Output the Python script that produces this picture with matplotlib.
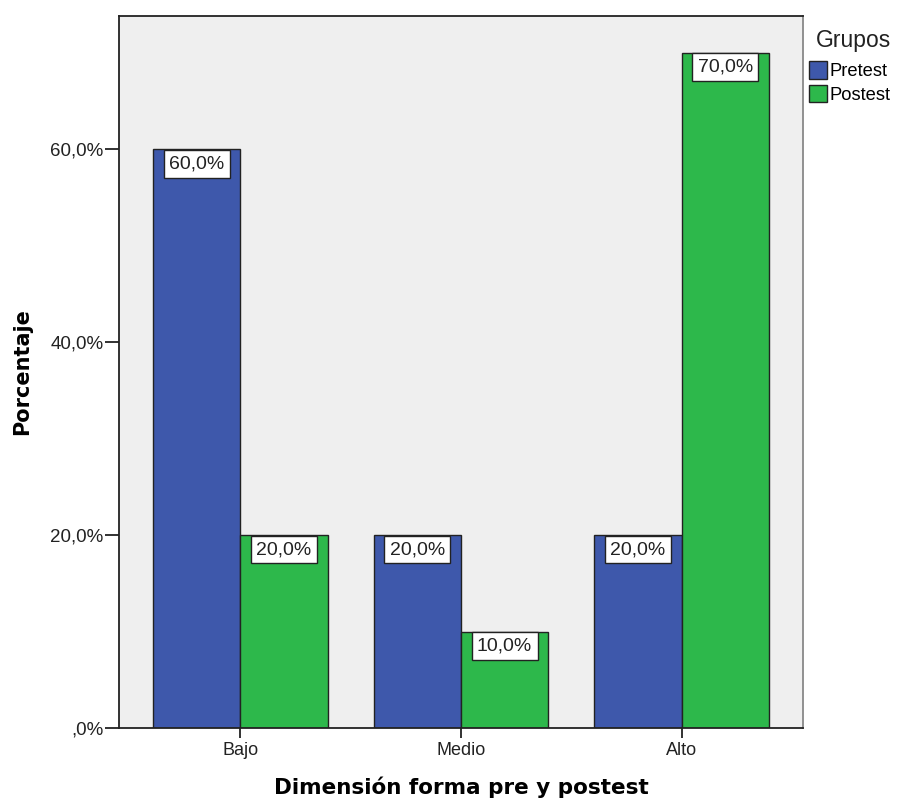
import numpy as np
import matplotlib
matplotlib.use("Agg")
import matplotlib.pyplot as plt
from matplotlib.patches import Patch

categories = ["Bajo", "Medio", "Alto"]
pretest = [60.0, 20.0, 20.0]
postest = [20.0, 10.0, 70.0]
groups = ["Pretest", "Postest"]
yticks = [0, 20, 40, 60]
ytick_labels = [",0%", "20,0%", "40,0%", "60,0%"]

blue = "#3E58AB"
green = "#2DB84B"
dark = "#222222"
plt.rcParams["font.family"] = ["Liberation Sans", "DejaVu Sans"]

fig = plt.figure(figsize=(8.97, 8.01), dpi=100)
ax = fig.add_axes([119 / 897, 1 - 728 / 801, (803 - 119) / 897, (728 - 16) / 801])
ax.set_facecolor("#EFEFEF")

x = np.arange(len(categories))
w = 0.395
b1 = ax.bar(x - w / 2, pretest, w, color=blue, edgecolor=dark, linewidth=1.0, zorder=2)
b2 = ax.bar(x + w / 2, postest, w, color=green, edgecolor=dark, linewidth=1.0, zorder=2)

# value labels in white boxes, top of box on the bar top
for bars, vals in [(b1, pretest), (b2, postest)]:
    for bar, v in zip(bars, vals):
        ax.annotate("{:.1f}%".format(v).replace(".", ","),
                    (bar.get_x() + bar.get_width() / 2, v),
                    xytext=(0, -4.3), textcoords="offset points",
                    ha="center", va="top", fontsize=14, color=dark, zorder=3,
                    bbox=dict(boxstyle="square,pad=0.28", fc="white", ec=dark, lw=1.0))

ax.set_xlim(-0.55, 2.55)
ax.set_ylim(0, 73.8)
ax.set_xticks(x)
ax.set_xticklabels(categories, fontsize=13, color=dark)
ax.set_yticks(yticks)
ax.set_yticklabels(ytick_labels, fontsize=13.5, color=dark)
ax.tick_params(axis="y", length=10, width=1.3, color=dark, pad=1)
ax.tick_params(axis="x", length=7, width=1.3, color=dark, pad=3)

for s in ["left", "bottom", "top"]:
    ax.spines[s].set_color(dark)
    ax.spines[s].set_linewidth(1.3)
ax.spines["right"].set_color("#888888")
ax.spines["right"].set_linewidth(1.3)

ax.set_ylabel("Porcentaje", fontsize=15, fontweight="bold", family="DejaVu Sans", va="center")
ax.yaxis.set_label_coords((22 - 119) / 684, 0.5)
ax.set_xlabel("Dimensión forma pre y postest", fontsize=15.5, fontweight="bold",
              family="DejaVu Sans", va="center")
ax.xaxis.set_label_coords(0.5, (728 - 787) / 712)

fig.text(853 / 897, 1 - 40 / 801, "Grupos", fontsize=16.5, color=dark, ha="center", va="center")
handles = [Patch(facecolor=blue, edgecolor=dark, label=groups[0]),
           Patch(facecolor=green, edgecolor=dark, label=groups[1])]
leg = fig.legend(handles=handles, loc="upper left",
                 bbox_to_anchor=(809 / 897, 1 - 61 / 801), frameon=False,
                 fontsize=13.2, handlelength=1.0, handleheight=1.1,
                 handletextpad=0.1, labelspacing=0.25, borderaxespad=0.0, borderpad=0.0)

fig.savefig("out.png", dpi=100)
